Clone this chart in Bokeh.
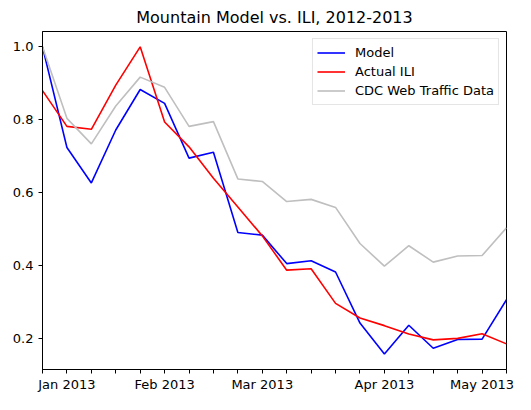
from bokeh.plotting import figure
from bokeh.models import FixedTicker, Range1d, Legend, LegendItem
from bokeh.embed import file_html
from bokeh.resources import INLINE

weeks = ["2012-12-30", "2013-01-06", "2013-01-13", "2013-01-20", "2013-01-27",
         "2013-02-03", "2013-02-10", "2013-02-17", "2013-02-24", "2013-03-03",
         "2013-03-10", "2013-03-17", "2013-03-24", "2013-03-31", "2013-04-07",
         "2013-04-14", "2013-04-21", "2013-04-28", "2013-05-05", "2013-05-12"]
tick_labels = ["", "Jan 2013", "", "", "", "Feb 2013", "", "", "", "Mar 2013",
               "", "", "", "", "Apr 2013", "", "", "", "May 2013", ""]
model = [1.0, 0.724, 0.627, 0.772, 0.883, 0.845, 0.695, 0.711, 0.491, 0.484,
         0.406, 0.414, 0.383, 0.243, 0.158, 0.237, 0.174, 0.198, 0.199, 0.307]
actual_ili = [0.880, 0.782, 0.774, 0.895, 1.0, 0.794, 0.726, 0.640, 0.561, 0.482,
              0.388, 0.392, 0.297, 0.257, 0.236, 0.213, 0.197, 0.201, 0.214, 0.186]
cdc_web = [1.0, 0.804, 0.734, 0.838, 0.917, 0.889, 0.782, 0.795, 0.638, 0.631,
           0.576, 0.582, 0.560, 0.461, 0.399, 0.455, 0.410, 0.427, 0.428, 0.504]
y_ticks = [0.2, 0.4, 0.6, 0.8, 1.0]

x = list(range(len(weeks)))
FONT = "DejaVu Sans"

p = figure(width=515, height=394, output_backend="svg", toolbar_location=None,
           title="Mountain Model vs. ILI, 2012-2013",
           x_range=Range1d(0, len(weeks) - 1), y_range=Range1d(0.1158, 1.042),
           min_border_left=42, min_border_right=9, min_border_top=29, min_border_bottom=0)

p.title.align = "center"
p.title.text_font = FONT
p.title.text_font_size = "16px"
p.title.text_font_style = "normal"
p.title.text_color = "black"

p.xgrid.visible = False
p.ygrid.visible = False
p.outline_line_color = "black"
p.outline_line_width = 1
p.background_fill_color = "white"
p.border_fill_color = "white"

r1 = p.line(x, model, line_color="#0000ff", line_width=1.6)
r2 = p.line(x, actual_ili, line_color="#ff0000", line_width=1.6)
r3 = p.line(x, cdc_web, line_color="#bfbfbf", line_width=1.6)

p.xaxis.ticker = FixedTicker(ticks=x)
p.xaxis.major_label_overrides = {i: lab for i, lab in zip(x, tick_labels)}
p.yaxis.ticker = FixedTicker(ticks=y_ticks)
p.yaxis.major_label_overrides = {t: f"{t:.1f}" for t in y_ticks}

for ax in (p.xaxis[0], p.yaxis[0]):
    ax.axis_line_color = "black"
    ax.major_tick_line_color = "black"
    ax.major_tick_out = 4
    ax.major_tick_in = 0
    ax.minor_tick_out = 0
    ax.minor_tick_in = 0
    ax.major_label_text_font = FONT
    ax.major_label_text_font_size = "13px"
    ax.major_label_text_color = "black"
p.xaxis.major_label_standoff = 3
p.yaxis.major_label_standoff = 5

legend = Legend(items=[LegendItem(label="Model", renderers=[r1]),
                       LegendItem(label="Actual ILI", renderers=[r2]),
                       LegendItem(label="CDC Web Traffic Data", renderers=[r3])],
                location="top_right")
legend.margin = 7
legend.padding = 4
legend.spacing = 0
legend.glyph_width = 28
legend.glyph_height = 19
legend.label_height = 19
legend.label_standoff = 10
legend.label_text_font = FONT
legend.label_text_font_size = "13px"
legend.label_text_color = "black"
legend.border_line_color = "#cccccc"
legend.border_line_width = 1
legend.background_fill_color = "white"
legend.background_fill_alpha = 0.8
p.add_layout(legend, "center")

open("out.html", "w").write(file_html(p, INLINE))
